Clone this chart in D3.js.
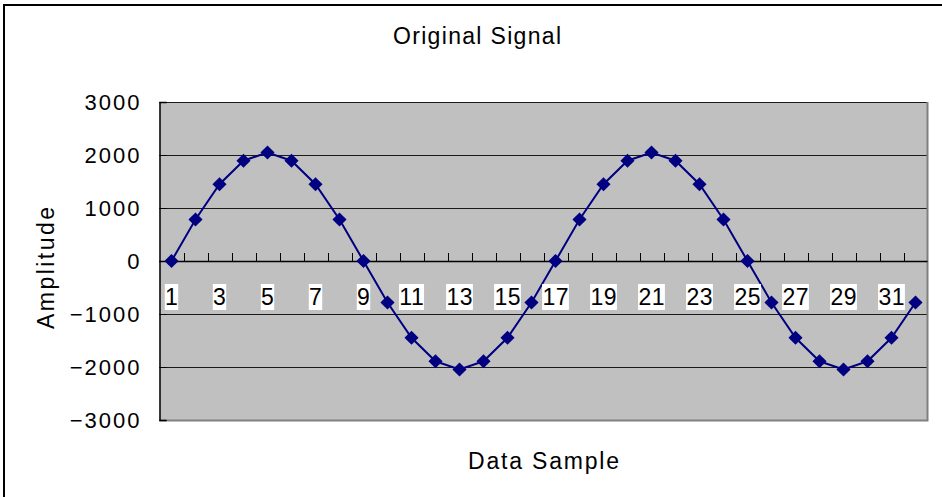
<!DOCTYPE html>
<html>
<head>
<meta charset="utf-8">
<script src="https://cdn.jsdelivr.net/npm/d3@7"></script>
<style>
  body { margin: 0; background: #fff; }
  text { font-family: "Liberation Sans", Arial, sans-serif; fill: #000; }
</style>
</head>
<body>
<div id="main"></div>
<script>
const samples = [1, 2, 3, 4, 5, 6, 7, 8, 9, 10, 11, 12, 13, 14, 15, 16,
    17, 18, 19, 20, 21, 22, 23, 24, 25, 26, 27, 28, 29, 30, 31, 32];
const amplitude = [0, 784, 1448, 1892, 2048, 1892, 1448, 784,
    0, -784, -1448, -1892, -2048, -1892, -1448, -784,
    0, 784, 1448, 1892, 2048, 1892, 1448, 784,
    0, -784, -1448, -1892, -2048, -1892, -1448, -784];
const yTicks = [-3000, -2000, -1000, 0, 1000, 2000, 3000];
const xLabels = [1, 3, 5, 7, 9, 11, 13, 15, 17, 19, 21, 23, 25, 27, 29, 31];

const width = 942;
const height = 497;
const plot = { left: 159.5, right: 927.5, top: 102, bottom: 420 };

const svg = d3.select("#main")
    .append("svg")
    .attr("width", width)
    .attr("height", height);

// chart border
svg.append("rect")
    .attr("x", 4)
    .attr("y", 5)
    .attr("width", width + 10)
    .attr("height", height + 10)
    .attr("fill", "#fff")
    .attr("stroke", "#000")
    .attr("stroke-width", 2);

const x = d3.scaleBand()
    .domain(samples)
    .range([plot.left, plot.right]);

const y = d3.scaleLinear()
    .domain([-3000, 3000])
    .range([plot.bottom, plot.top]);

// plot area
svg.append("rect")
    .attr("x", plot.left)
    .attr("y", plot.top)
    .attr("width", plot.right - plot.left)
    .attr("height", plot.bottom - plot.top)
    .attr("fill", "#c0c0c0");

svg.append("g")
    .selectAll("line")
    .data(yTicks)
    .join("line")
    .attr("x1", plot.left)
    .attr("x2", plot.right)
    .attr("y1", d => Math.round(y(d)) + 0.5)
    .attr("y2", d => Math.round(y(d)) + 0.5)
    .attr("stroke", "#1a1a1a");

// right + bottom frame
svg.append("path")
    .attr("d", `M${plot.right},${plot.top}V${plot.bottom + 0.5}H${plot.left}`)
    .attr("fill", "none")
    .attr("stroke", "#808080")
    .attr("stroke-width", 2);

// y axis
const yAxis = svg.append("g")
    .attr("transform", `translate(${plot.left},0)`)
    .call(d3.axisLeft(y).tickValues(yTicks).tickSize(-7).tickPadding(20).tickFormat(d3.format("d")));
yAxis.select(".domain").attr("stroke", "#000").attr("stroke-width", 1.5);
yAxis.selectAll(".tick line").attr("stroke", "#000");
yAxis.selectAll(".tick text")
    .attr("font-size", 22)
    .attr("letter-spacing", "2px")
    .attr("dx", 2)
    .attr("dy", "0.36em")
    .style("font-family", "'Liberation Sans', Arial, sans-serif");

// x axis at zero, ticks inside (upward)
const xTickPos = samples.map(d => x(d)).concat([plot.right]);
const xAxisG = svg.append("g");
xAxisG.append("line")
    .attr("x1", plot.left)
    .attr("x2", plot.right)
    .attr("y1", Math.round(y(0)) + 0.5)
    .attr("y2", Math.round(y(0)) + 0.5)
    .attr("stroke", "#000")
    .attr("stroke-width", 1.5);
xAxisG.selectAll("line.tk")
    .data(xTickPos.slice(1, -1))
    .join("line")
    .attr("class", "tk")
    .attr("x1", d => Math.round(d) + 0.5)
    .attr("x2", d => Math.round(d) + 0.5)
    .attr("y1", y(0) - 8)
    .attr("y2", y(0))
    .attr("stroke", "#000");

// series
const line = d3.line()
    .x((d, i) => x(samples[i]) + x.bandwidth() / 2)
    .y(d => y(d));

svg.append("path")
    .datum(amplitude)
    .attr("d", line)
    .attr("fill", "none")
    .attr("stroke", "#000080")
    .attr("stroke-width", 2);

// category labels with white boxes
const labelG = svg.append("g");
xLabels.forEach(v => {
    const cx = x(v) + x.bandwidth() / 2;
    const g = labelG.append("g");
    const t = g.append("text")
        .attr("x", cx + 0.3)
        .attr("y", 305)
        .attr("text-anchor", "middle")
        .attr("font-size", 23)
        .attr("letter-spacing", "0.6px")
        .text(v);
    const bb = t.node().getBBox();
    g.insert("rect", "text")
        .attr("x", cx - bb.width / 2)
        .attr("y", 284)
        .attr("width", bb.width)
        .attr("height", 26)
        .attr("fill", "#fff");
});

svg.append("g")
    .selectAll("path")
    .data(amplitude)
    .join("path")
    .attr("d", d3.symbol(d3.symbolSquare, 100))
    .attr("transform", (d, i) => `translate(${x(samples[i]) + x.bandwidth() / 2},${y(d)}) rotate(45)`)
    .attr("fill", "#000080");

// titles
svg.append("text")
    .attr("x", 477)
    .attr("y", 44)
    .attr("text-anchor", "middle")
    .attr("font-size", 23)
    .attr("textLength", 168)
    .attr("lengthAdjust", "spacing")
    .text("Original Signal");

svg.append("text")
    .attr("x", (plot.left + plot.right) / 2)
    .attr("y", 469)
    .attr("text-anchor", "middle")
    .attr("font-size", 23)
    .attr("textLength", 151)
    .attr("lengthAdjust", "spacing")
    .text("Data Sample");

svg.append("text")
    .attr("transform", "translate(54,268) rotate(-90)")
    .attr("text-anchor", "middle")
    .attr("font-size", 23)
    .attr("textLength", 122)
    .attr("lengthAdjust", "spacing")
    .text("Amplitude");
</script>
</body>
</html>
